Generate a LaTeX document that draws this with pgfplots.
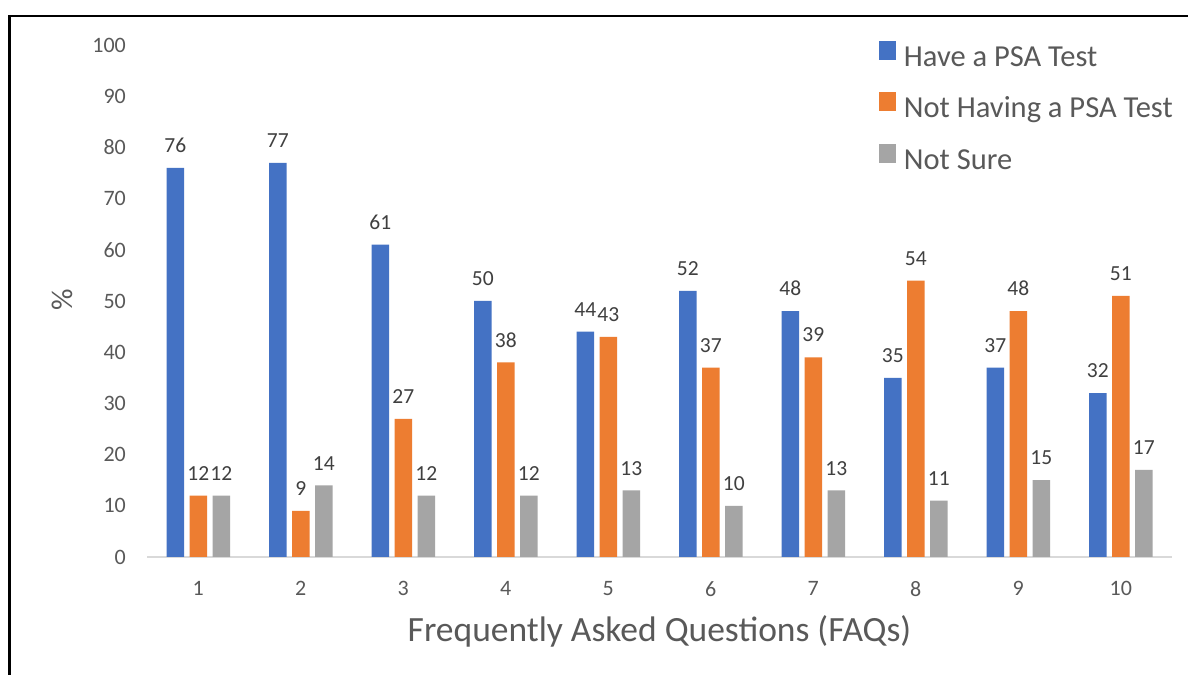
\documentclass[border=0pt]{standalone}
\usepackage{pgfplots}
\pgfplotsset{compat=1.18}
\usepackage{fontspec}
\setmainfont{Carlito}
\definecolor{cblue}{HTML}{4472C4}
\definecolor{corange}{HTML}{ED7D31}
\definecolor{cgray}{HTML}{A5A5A5}
\definecolor{txtgray}{HTML}{595959}
\definecolor{lblgray}{HTML}{404040}
\definecolor{axgray}{HTML}{D9D9D9}
\begin{document}
\begin{tikzpicture}
\useasboundingbox (0,0) rectangle (1188bp,675bp);
\fill[white] (0,0) rectangle (1188bp,675bp);
\draw[line width=2.2bp,black] (9.5bp,0) -- (9.5bp,659bp) -- (1188bp,659bp);
\begin{axis}[
  at={(147bp,118bp)}, anchor=south west,
  scale only axis, width=1025bp, height=512bp,
  xmin=0.5, xmax=10.5, ymin=0, ymax=100,
  xtick={1,...,10}, ytick={0,10,...,100},
  ybar=5.5bp, bar width=17.5bp,
  axis x line*=bottom, axis y line*=left,
  x axis line style={-, draw=axgray, line width=1.5bp},
  y axis line style={draw=none},
  major tick length=0pt,
  tick style={draw=none},
  /pgf/number format/assume math mode=true,
  ticklabel style={font=\fontsize{22bp}{26bp}\selectfont, text=txtgray, inner sep=0pt},
  yticklabel style={anchor=east, xshift=-21bp},
  xticklabel style={anchor=north, yshift=-24bp},
  xlabel={Frequently Asked Questions (FAQs)},
  xlabel style={at={(rel axis cs:0.5,-0.146)}, anchor=center, font=\fontsize{35.5bp}{40bp}\selectfont, text=txtgray},
  ylabel={\%},
  ylabel style={at={(rel axis cs:-0.083,0.502)}, anchor=center, rotate=0, font=\fontsize{30bp}{34bp}\selectfont, text=txtgray},
  nodes near coords,
  every node near coord/.append style={font=\fontsize{21.5bp}{25bp}\selectfont, text=lblgray, inner sep=0pt, anchor=south, yshift=15bp},
  legend style={at={(rel axis cs:0.711,1.012)}, anchor=north west, draw=none, fill=none,
    font=\fontsize{30.5bp}{36bp}\selectfont, text=txtgray, row sep=24.5bp,
    /tikz/every odd column/.append style={column sep=8bp},
    nodes={inner sep=0pt}},
  legend cell align=left,
  legend image code/.code={\fill[#1] (0bp,-3bp) rectangle (17bp,16bp);},
  clip=false,
]
\addplot[fill=cblue, draw=none] coordinates {(1,76) (2,77) (3,61) (4,50) (5,44) (6,52) (7,48) (8,35) (9,37) (10,32)};
\addplot[fill=corange, draw=none] coordinates {(1,12) (2,9) (3,27) (4,38) (5,43) (6,37) (7,39) (8,54) (9,48) (10,51)};
\addplot[fill=cgray, draw=none] coordinates {(1,12) (2,14) (3,12) (4,12) (5,13) (6,10) (7,13) (8,11) (9,15) (10,17)};
\legend{Have a PSA Test, Not Having a PSA Test, Not Sure}
\end{axis}
\end{tikzpicture}
\end{document}
